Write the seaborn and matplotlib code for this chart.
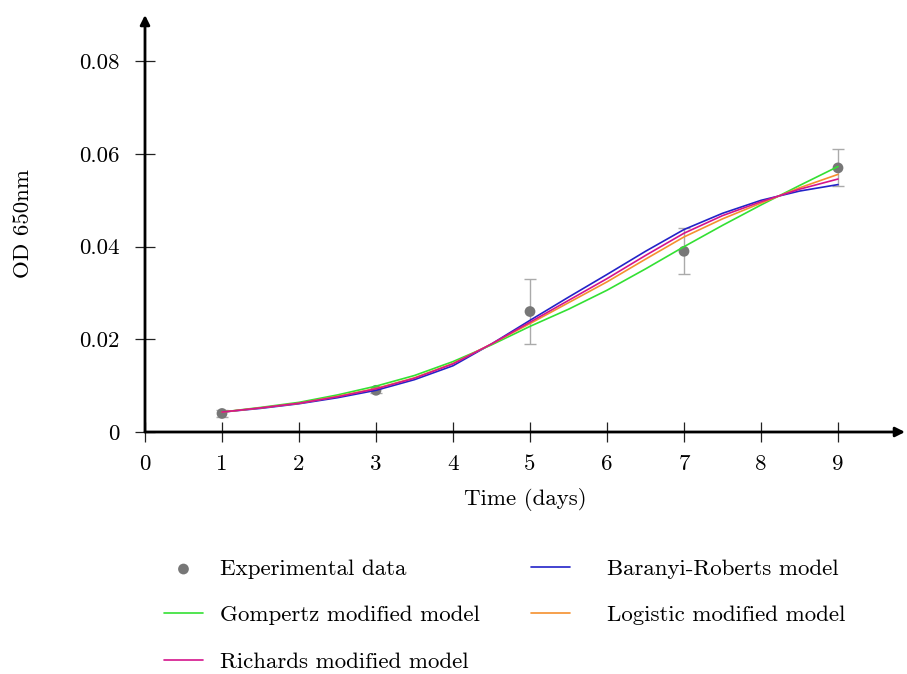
import matplotlib
matplotlib.use("Agg")
import matplotlib.pyplot as plt
import seaborn as sns
import pandas as pd

# ---- data ----
days = [1, 3, 5, 7, 9]
od_mean = [0.0040, 0.0090, 0.0260, 0.0390, 0.0570]
od_err = [0.0007, 0.0005, 0.0070, 0.0050, 0.0040]

t_model = [1, 1.5, 2, 2.5, 3, 3.5, 4, 4.5, 5, 5.5, 6, 6.5, 7, 7.5, 8, 8.5, 9]
gompertz = [0.0043, 0.0053, 0.0064, 0.0080, 0.0099, 0.0122, 0.0152, 0.0188, 0.0228,
            0.0265, 0.0306, 0.0352, 0.0400, 0.0446, 0.0490, 0.0532, 0.0573]
baranyi = [0.0043, 0.0051, 0.0061, 0.0074, 0.0090, 0.0113, 0.0143, 0.0190, 0.0241,
           0.0291, 0.0340, 0.0390, 0.0437, 0.0472, 0.0500, 0.0520, 0.0534]
richards = [0.0043, 0.0052, 0.0062, 0.0076, 0.0093, 0.0116, 0.0147, 0.0190, 0.0237,
            0.0284, 0.0331, 0.0381, 0.0429, 0.0467, 0.0497, 0.0524, 0.0546]
logistic = [0.0043, 0.0052, 0.0062, 0.0077, 0.0094, 0.0117, 0.0148, 0.0190, 0.0234,
            0.0279, 0.0324, 0.0373, 0.0421, 0.0460, 0.0494, 0.0527, 0.0556]

x_ticks = [0, 1, 2, 3, 4, 5, 6, 7, 8, 9]
x_ticklabels = ["0", "1", "2", "3", "4", "5", "6", "7", "8", "9"]
y_ticks = [0, 0.02, 0.04, 0.06, 0.08]
y_ticklabels = ["0", "0.02", "0.04", "0.06", "0.08"]

sns.set_style("white")
plt.rcParams["font.family"] = ["cmr10", "DejaVu Serif"]
plt.rcParams["axes.formatter.use_mathtext"] = True
for a in ("xtick", "ytick"):
    plt.rcParams[f"{a}.direction"] = "inout"
    plt.rcParams[f"{a}.major.size"] = 15
    plt.rcParams[f"{a}.major.width"] = 0.9
    plt.rcParams[f"{a}.color"] = "#222222"
plt.rcParams["xtick.bottom"] = True
plt.rcParams["ytick.left"] = True

FS = 16.5
W, H = 907, 674
fig = plt.figure(figsize=(W / 100, H / 100), dpi=100)
ax = fig.add_axes([145 / W, 1 - 432 / H, 760 / W, 417 / H])

exp_df = pd.DataFrame({"t": days, "od": od_mean})
ax.errorbar(days, od_mean, yerr=od_err, fmt="none", ecolor="#aaaaaa",
            elinewidth=1.0, capsize=4, capthick=1.0, zorder=2)
sns.scatterplot(data=exp_df, x="t", y="od", color="#777777", s=60,
                edgecolor="none", ax=ax, label="Experimental data", zorder=3)

models = [
    ("Baranyi-Roberts model", baranyi, "#2323c8"),
    ("Gompertz modified model", gompertz, "#33e033"),
    ("Logistic modified model", logistic, "#f5902e"),
    ("Richards modified model", richards, "#d4148c"),
]
for name, vals, col in models:
    df = pd.DataFrame({"t": t_model, "od": vals})
    sns.lineplot(data=df, x="t", y="od", color=col, lw=1.2, ax=ax,
                 label=name, zorder=4)

ax.set_xlim(0, 9.87)
ax.set_ylim(0, 0.090)
ax.set_xticks(x_ticks)
ax.set_xticklabels(x_ticklabels)
ax.set_yticks(y_ticks)
ax.set_yticklabels(y_ticklabels)
ax.tick_params(axis="both", which="major", direction="inout", length=15,
               width=0.9, color="#222222", labelsize=FS, labelcolor="black")
ax.tick_params(axis="x", pad=8.5)
ax.tick_params(axis="y", pad=11)
for s in ax.spines.values():
    s.set_visible(False)

# axis lines with arrow heads
for end in [(1.0, 0), (0, 1.0)]:
    ax.annotate("", xy=end, xytext=(0, 0), xycoords="axes fraction",
                arrowprops=dict(arrowstyle="-|>", color="black", lw=2.0,
                                mutation_scale=14, shrinkA=0, shrinkB=0),
                annotation_clip=False, zorder=5)

ax.set_xlabel("Time (days)", fontsize=FS, labelpad=10, color="black")
ax.set_ylabel("")
fig.text(23 / W, 1 - 223 / H, "OD 650nm", rotation=90, fontsize=FS,
         ha="center", va="center", color="black")

handles, labels = ax.get_legend_handles_labels()
hmap = dict(zip(labels, handles))
if ax.get_legend():
    ax.get_legend().remove()

col1 = ["Experimental data", "Gompertz modified model", "Richards modified model"]
col2 = ["Baranyi-Roberts model", "Logistic modified model"]
common = dict(frameon=False, loc="upper left", fontsize=FS, handlelength=1.7,
              labelspacing=1.15, borderpad=0, borderaxespad=0, labelcolor="black")
fig.legend([hmap[o] for o in col1], col1, bbox_to_anchor=(164 / W, 1 - 559 / H),
           handletextpad=0.75, **common)
fig.legend([hmap[o] for o in col2], col2, bbox_to_anchor=(531 / W, 1 - 559 / H),
           handletextpad=1.62, **common)

fig.savefig("out.png", dpi=100)
